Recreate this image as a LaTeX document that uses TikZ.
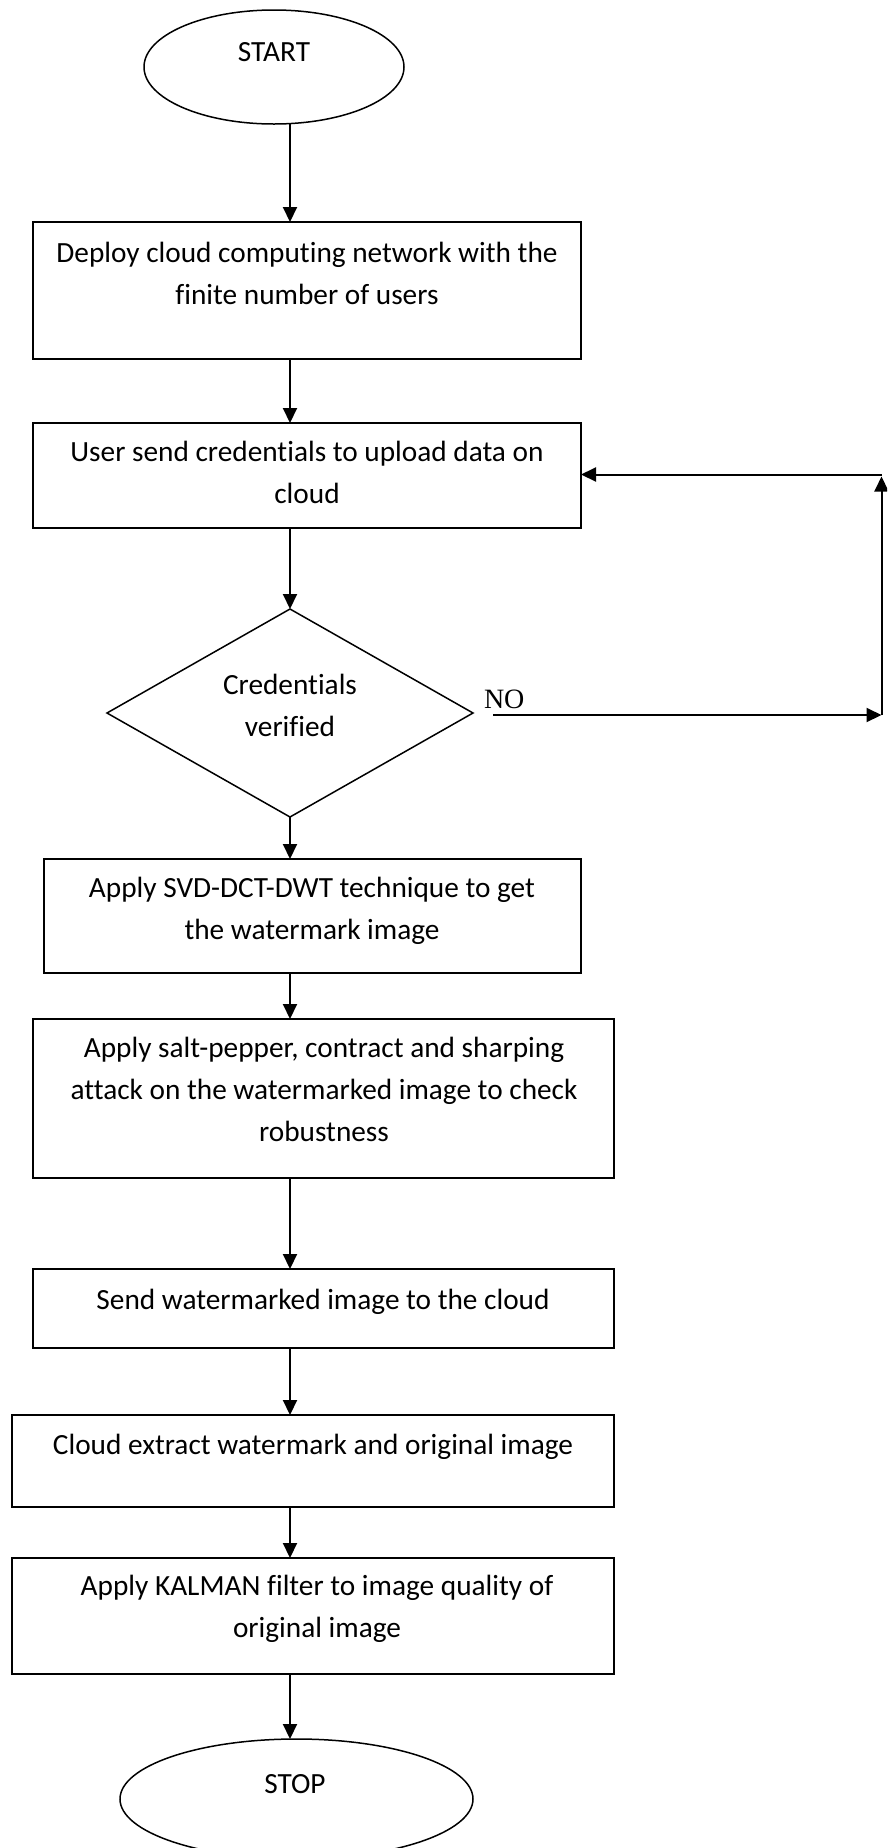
\documentclass[tikz,border=0pt]{standalone}
\usepackage{fontspec}
\setmainfont{Carlito}[Ligatures=NoCommon]
\newfontfamily\labelserif{Liberation Serif}
\usetikzlibrary{arrows.meta,shapes.geometric}

\begin{document}
\begin{tikzpicture}[x=1pt,y=-1pt,
  every node/.style={inner sep=0pt, outer sep=0pt},
  box/.style={draw, line width=2pt, rectangle},
  term/.style={draw, line width=1.5pt, ellipse},
  decision/.style={draw, line width=1.5pt, diamond},
  % multi-line labels are placed by the baseline of their last line
  txt/.style={font=\fontsize{29.3}{42}\selectfont, align=center, anchor=base},
  arr/.style={line width=2pt, -{Triangle[length=15pt,width=14pt]}}]

\useasboundingbox (0,0) rectangle (887,1848);
\clip (0,0) rectangle (887,1848);

% shapes
\node[term, minimum width=260pt, minimum height=114pt] (start) at (274,67) {};
\node[box, minimum width=548pt, minimum height=137pt] (b1) at (307,290.5) {};
\node[box, minimum width=548pt, minimum height=105pt] (b2) at (307,475.5) {};
\node[decision, minimum width=366pt, minimum height=208pt] (dia) at (290,713) {};
\node[box, minimum width=537pt, minimum height=114pt] (b3) at (312.5,916) {};
\node[box, minimum width=581pt, minimum height=159pt] (b4) at (323.5,1098.5) {};
\node[box, minimum width=581pt, minimum height=79pt] (b5) at (323.5,1308.5) {};
\node[box, minimum width=602pt, minimum height=92pt] (b6) at (313,1461) {};
\node[box, minimum width=602pt, minimum height=116pt] (b7) at (313,1616) {};
\node[term, minimum width=353pt, minimum height=120pt] (stop) at (296.5,1799) {};

% texts
\node[txt] (startT) at (274,61) {START};
\node[txt] (b1T) at (307,304) {Deploy cloud computing network with the\\finite number of users};
\node[txt] (b2T) at (307,503) {User send credentials to upload data on\\cloud};
\node[txt] (diaT) at (290,736) {Credentials\\verified};
\node[txt] (b3T) at (312,939) {Apply SVD-DCT-DWT technique to get\\the watermark image};
\node[txt] (b4T) at (324,1141) {Apply salt-pepper, contract and sharping\\attack on the watermarked image to check\\robustness};
\node[txt] (b5T) at (323,1309) {Send watermarked image to the cloud};
\node[txt] (b6T) at (313,1454) {Cloud extract watermark and original image};
\node[txt] (b7T) at (317,1637) {Apply KALMAN filter to image quality of\\original image};
\node[txt] (stopT) at (295,1793) {STOP};
\node[font=\labelserif\fontsize{28}{30}\selectfont, anchor=base west] (no) at (484,708) {NO};

% main flow
\coordinate (spine) at (290,0);
\draw[arr] (start.south -| spine) -- (b1.north -| spine);
\draw[arr] (b1.south -| spine) -- (b2.north -| spine);
\draw[arr] (b2.south -| spine) -- (dia.north -| spine);
\draw[arr] (dia.south -| spine) -- (b3.north -| spine);
\draw[arr] (b3.south -| spine) -- (b4.north -| spine);
\draw[arr] (b4.south -| spine) -- (b5.north -| spine);
\draw[arr] (b5.south -| spine) -- (b6.north -| spine);
\draw[arr] (b6.south -| spine) -- (b7.north -| spine);
\draw[arr] (b7.south -| spine) -- (stop.north -| spine);

% retry loop
\coordinate (cR) at (881.5,715);
\coordinate (cT) at (881.5,474.5);
\draw[arr] ([xshift=20pt,yshift=-2pt]dia.east) -- (cR);
\draw[arr] (cR) -- ([yshift=-2pt]cT);
\draw[arr] (cT) -- (b2.east |- cT);
\end{tikzpicture}
\end{document}
